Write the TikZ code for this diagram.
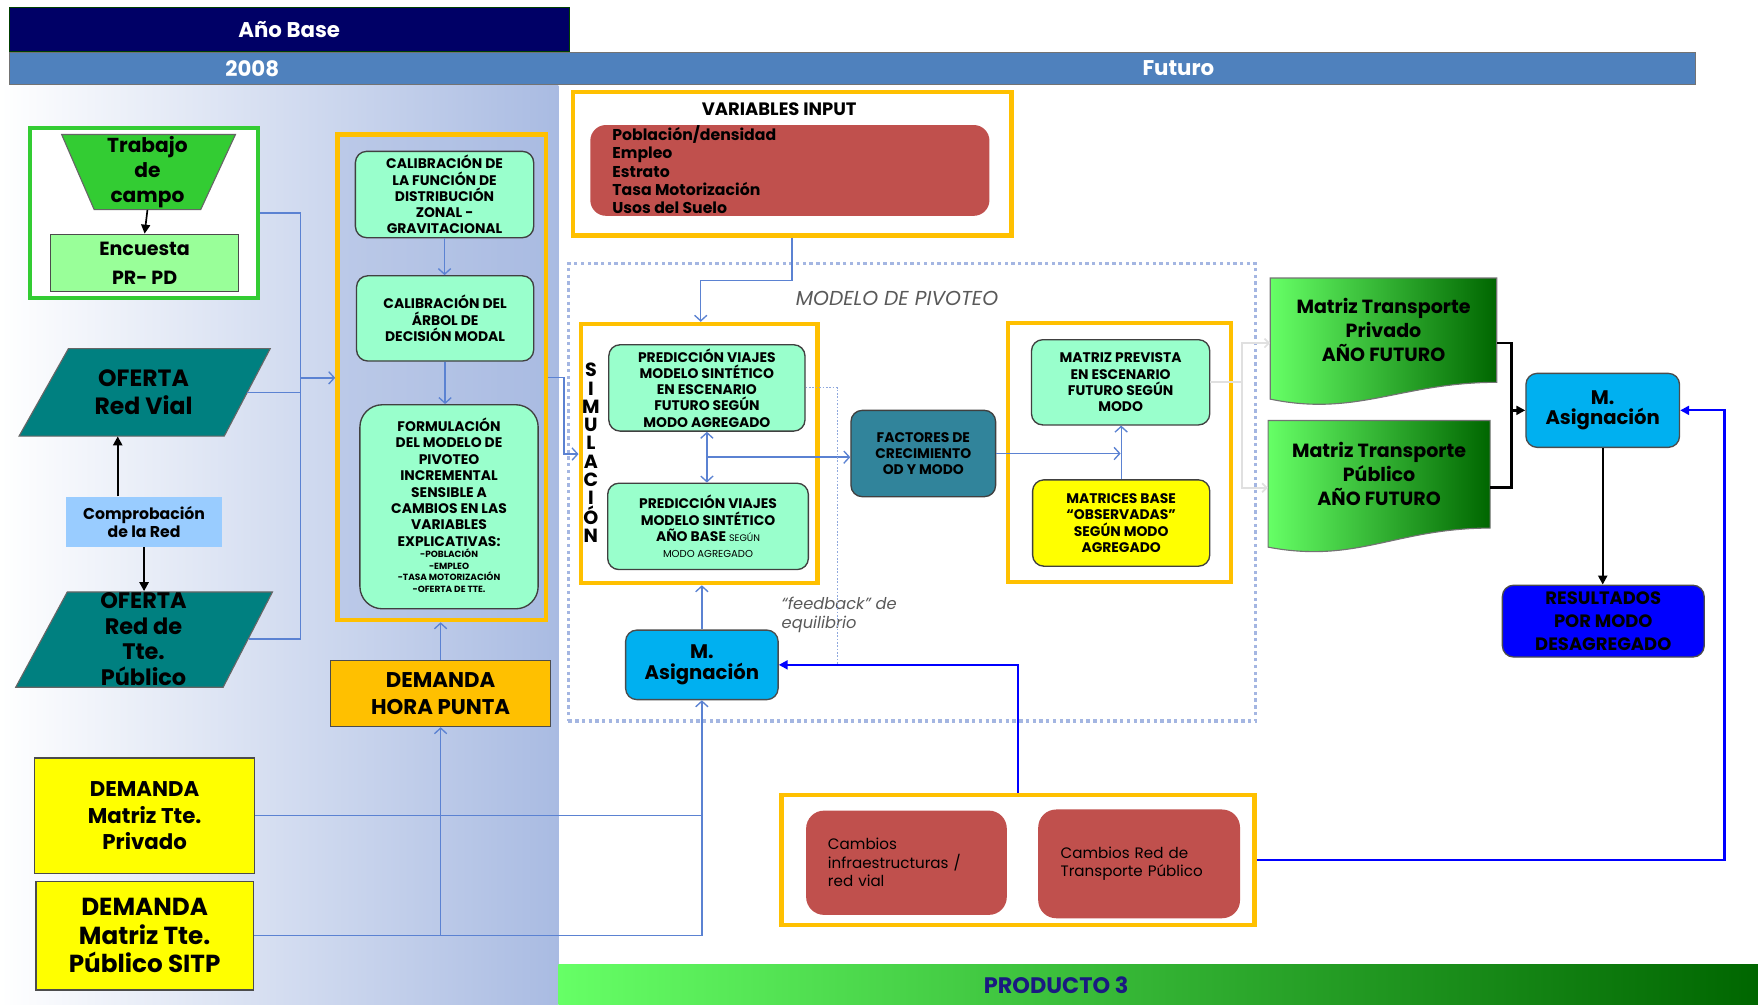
\documentclass[tikz,border=0pt]{standalone}
\usepackage{fontspec}
\setmainfont{Poppins}
\usepackage{tikz}
\usetikzlibrary{calc}
\usetikzlibrary{arrows.meta}

\definecolor{navyc}{HTML}{000066}
\definecolor{yearc}{HTML}{4F81BD}
\definecolor{panelc}{HTML}{A9BBE2}
\definecolor{greenc}{HTML}{33CC33}
\definecolor{encc}{HTML}{99FF99}
\definecolor{tealc}{HTML}{008080}
\definecolor{compc}{HTML}{99CCFF}
\definecolor{yellowc}{HTML}{FFFF00}
\definecolor{framec}{HTML}{FFC000}
\definecolor{mintc}{HTML}{99FFCC}
\definecolor{redc}{HTML}{C0504D}
\definecolor{factc}{HTML}{31849B}
\definecolor{asigc}{HTML}{00B0F0}
\definecolor{resc}{HTML}{0000FF}
\definecolor{linkc}{HTML}{5B82D2}
\definecolor{dotc}{HTML}{A4B6E2}
\definecolor{fbc}{HTML}{8FA8DD}
\definecolor{grayc}{HTML}{595959}
\definecolor{docl}{HTML}{66FF66}
\definecolor{docd}{HTML}{006600}
\definecolor{prodc}{HTML}{1A1A80}

\begin{document}
\begin{tikzpicture}[x=1pt, y=-1pt,
    every node/.style={inner sep=0pt, align=center},
    framebox/.style={draw=framec, line width=4pt},
    capsbox/.style={draw=black!75, line width=1.2pt, rounded corners=10pt, fill=mintc,
        font=\bfseries\fontsize{12.4}{14.5}\selectfont},
    plainbox/.style={draw=black!70, line width=1.2pt},
    oferta/.style={draw=black!60, line width=1pt, fill=tealc},
    asig/.style={draw=black!70, line width=1.2pt, rounded corners=10pt, fill=asigc,
        font=\bfseries\fontsize{17.5}{18.5}\selectfont},
    lnk/.style={draw=linkc, line width=1.2pt},
    lnkarrow/.style={lnk, -{Straight Barb[length=5pt, width=11pt]}},
    blkline/.style={draw=black, line width=2.2pt},
    blkarrow/.style={blkline, -{Triangle[length=8pt, width=8pt]}},
    bluearrow/.style={draw=resc, line width=2pt, -{Triangle[length=8pt, width=8pt]}},
    faint/.style={draw=black!12, line width=1.5pt},
    faintarrow/.style={faint, -{Straight Barb[length=4pt, width=8pt]}},
    fbline/.style={draw=fbc, line width=1pt, dash pattern=on 1.5pt off 1.5pt},
    docshape/.style={draw=black!55, line width=1pt, left color=docl, right color=docd}]
  \useasboundingbox (0,0) rectangle (1568,896);

  \shade[left color=white, right color=panelc] (0,76) rectangle (498,896);
  \shade[left color=docl, right color=docd] (498,860) rectangle (1568,896);
  \node[fill=navyc, draw=green!25!black, line width=0.8pt, minimum width=500pt, minimum height=39pt,
        text=white, font=\bfseries\fontsize{19}{22}\selectfont] (anob) at (258,26.5) {Año Base};
  \node[fill=yearc, draw=black!55, line width=0.8pt, minimum width=1504pt, minimum height=28pt] (ybar) at (760,61) {};
  \node[text=white, font=\bfseries\fontsize{19}{22}\selectfont] (y2008) at (225,61) {2008};
  \node[text=white, font=\bfseries\fontsize{19}{22}\selectfont] (yfut) at (1051,61) {Futuro};
  \node[text=prodc, font=\bfseries\fontsize{20}{22}\selectfont] (prod) at (942,879) {PRODUCTO 3};

  \node[draw=greenc, line width=3.5pt, fill=white, minimum width=203pt, minimum height=152pt] (campo) at (128.5,190) {};
  \draw[draw=black!60, line width=1pt, fill=greenc] (55,120) -- (210,120) -- (179,187) -- (84,187) -- cycle;
  \node[minimum height=67pt, font=\bfseries\fontsize{18}{22}\selectfont] (trab) at (131.5,153.5) {Trabajo\\de\\campo};
  \node[plainbox, fill=encc, minimum width=168pt, minimum height=51pt,
        font=\bfseries\fontsize{17}{26}\selectfont] (enc) at (129,234.5) {\raisebox{-3pt}{Encuesta}\\\raisebox{-3pt}{PR- PD}};
  \draw[oferta] (61,311) -- (241,311) -- (200,389) -- (17,389) -- cycle;
  \node[minimum width=185pt, minimum height=78pt, font=\bfseries\fontsize{21}{25}\selectfont] (vial) at (128,350) {OFERTA\\Red Vial};
  \node[fill=compc, minimum width=139pt, minimum height=45pt,
        font=\bfseries\fontsize{14}{16.5}\selectfont] (comp) at (128.5,465.5) {Comprobación\\de la Red};
  \draw[oferta] (60,528) -- (243,528) -- (199,613) -- (14,613) -- cycle;
  \node[minimum width=187pt, minimum height=85pt, font=\bfseries\fontsize{20}{23}\selectfont] (pub) at (128,570) {OFERTA\\Red de\\Tte.\\Público};
  \node[plainbox, fill=yellowc, minimum width=196pt, minimum height=103pt,
        font=\bfseries\fontsize{19}{24}\selectfont] (dpriv) at (129,727.5) {DEMANDA\\Matriz Tte.\\Privado};
  \node[plainbox, fill=yellowc, minimum width=194pt, minimum height=97pt,
        font=\bfseries\fontsize{22}{25.5}\selectfont] (dpub) at (129,834.5) {DEMANDA\\Matriz Tte.\\Público SITP};

  \node[framebox, fill=panelc, fill opacity=0.45, minimum width=186pt, minimum height=433pt] (calbox) at (394,336.5) {};
  \node[capsbox, minimum width=159pt, minimum height=77pt] (cal1) at (396.5,173.5) {CALIBRACIÓN DE\\LA FUNCIÓN DE\\DISTRIBUCIÓN\\ZONAL -\\GRAVITACIONAL};
  \node[capsbox, minimum width=158pt, minimum height=76pt] (cal2) at (397,284) {CALIBRACIÓN DEL\\ÁRBOL DE\\DECISIÓN MODAL};
  \node[capsbox, rounded corners=20pt, minimum width=159pt, minimum height=182pt] (form) at (400.5,452) {};
  \node[font=\bfseries\fontsize{12.4}{14.6}\selectfont] (formt) at (400.5,430) {FORMULACIÓN\\DEL MODELO DE\\PIVOTEO\\INCREMENTAL\\SENSIBLE A\\CAMBIOS EN LAS\\VARIABLES\\EXPLICATIVAS:};
  \node[font=\bfseries\fontsize{8}{10.5}\selectfont] (forml) at (400.5,509) {-POBLACIÓN\\-EMPLEO\\-TASA MOTORIZACIÓN\\-OFERTA DE TTE.};
  \node[plainbox, fill=framec, minimum width=196pt, minimum height=59pt,
        font=\bfseries\fontsize{19}{24.5}\selectfont] (dhp) at (393,618.5) {DEMANDA\\HORA PUNTA};

  \node[framebox, fill=white, minimum width=391pt, minimum height=128pt] (varbox) at (706.5,146) {};
  \node[font=\bfseries\fontsize{16}{18}\selectfont] (vart) at (695,97) {VARIABLES INPUT};
  \node[fill=redc, rounded corners=14pt, minimum width=356pt, minimum height=81pt] (varred) at (704.5,152) {};
  \node[anchor=west, align=left, font=\bfseries\fontsize{14}{16.3}\selectfont] (varl) at (546,151.5) {Población/densidad\\Empleo\\Estrato\\Tasa Motorización\\Usos del Suelo};

  \node[draw=dotc, line width=3pt, dash pattern=on 3pt off 3pt, minimum width=613pt, minimum height=408pt] (pivbox) at (813.5,439) {};
  \node[text=grayc, font=\itshape\fontsize{18}{20}\selectfont] (pivl) at (800,266) {MODELO DE PIVOTEO};

  \node[framebox, fill=white, minimum width=211pt, minimum height=231pt] (sim) at (623.5,404.5) {};
  \node[font=\bfseries\fontsize{17}{16.3}\selectfont] (simt) at (527,404) {S\\I\\M\\U\\L\\A\\C\\I\\Ó\\N};
  \node[capsbox, minimum width=175pt, minimum height=77pt] (pred1) at (630.5,346) {PREDICCIÓN VIAJES\\MODELO SINTÉTICO\\EN ESCENARIO\\FUTURO SEGÚN\\MODO AGREGADO};
  \node[capsbox, minimum width=179pt, minimum height=77pt] (pred2) at (631.5,469.5) {PREDICCIÓN VIAJES\\MODELO SINTÉTICO\\AÑO BASE {\mdseries\fontsize{8.5}{10}\selectfont SEGÚN}\\{\mdseries\fontsize{9}{10}\selectfont MODO AGREGADO}};
  \node[capsbox, fill=factc, minimum width=129pt, minimum height=77pt] (fact) at (823.5,404.5) {FACTORES DE\\CRECIMIENTO\\OD Y MODO};
  \node[framebox, fill=white, minimum width=199pt, minimum height=231pt] (box3) at (998.5,403.5) {};
  \node[capsbox, minimum width=159pt, minimum height=76pt] (mprev) at (999.5,341) {MATRIZ PREVISTA\\EN ESCENARIO\\FUTURO SEGÚN\\MODO};
  \node[capsbox, fill=yellowc, minimum width=158pt, minimum height=77pt] (mbase) at (1000,466.5) {MATRICES BASE\\“OBSERVADAS”\\SEGÚN MODO\\AGREGADO};
  \node[asig, minimum width=136pt, minimum height=62pt] (masig1) at (626,593) {M.\\Asignación};
  \node[anchor=west, align=left, text=grayc, font=\itshape\fontsize{14.5}{17}\selectfont] (fbl) at (697,548.5) {“feedback” de\\equilibrio};

  \node[framebox, fill=white, minimum width=422pt, minimum height=116pt] (camb) at (908,767) {};
  \node[fill=redc, rounded corners=16pt, minimum width=179pt, minimum height=93pt, text width=140pt, align=left,
        font=\fontsize{13.5}{16.5}\selectfont] (cam1) at (808.5,769.5) {Cambios\\infraestructuras /\\red vial};
  \node[fill=redc, rounded corners=16pt, minimum width=180pt, minimum height=97pt, text width=140pt, align=left,
        font=\fontsize{13.5}{16.5}\selectfont] (cam2) at (1016,770.5) {Cambios Red de\\Transporte Público};

  \draw[docshape] (1133,248) -- (1335,248) -- (1335,341) .. controls (1250,341) and (1210,372) .. (1133,356) -- cycle;
  \node[minimum width=202pt, minimum height=93pt, font=\bfseries\fontsize{17}{21.5}\selectfont] (d1) at (1234,294.5) {Matriz Transporte\\Privado\\AÑO FUTURO};
  \draw[docshape] (1131,375) -- (1329,375) -- (1329,471) .. controls (1245,471) and (1210,503) .. (1131,488) -- cycle;
  \node[minimum width=198pt, minimum height=96pt, font=\bfseries\fontsize{17}{21.5}\selectfont] (d2) at (1230,423) {Matriz Transporte\\Público\\AÑO FUTURO};
  \node[asig, minimum width=137pt, minimum height=66pt] (masig2) at (1429.5,366) {M.\\Asignación};
  \node[draw=black!70, line width=1.2pt, rounded corners=10pt, fill=resc, minimum width=180pt, minimum height=64pt,
        font=\bfseries\fontsize{16}{20.5}\selectfont] (res) at (1430,554) {RESULTADOS\\POR MODO\\DESAGREGADO};

  \coordinate (jl) at (268,337);
  \coordinate (jr) at (503,405);
  \coordinate (jv) at (625,250);
  \coordinate (jm) at ($(pred1.south)!0.5!(pred2.north)$);
  \coordinate (jb) at (1348,366);
  \coordinate (fj) at (1108,341);
  \coordinate (fbj) at (747,593);
  \coordinate (bj) at (1538,366);

  \draw[blkarrow, line width=1.5pt] (trab.south) -- (enc.north);
  \draw[blkarrow, line width=2pt] ([xshift=-23.5pt]comp.north) -- ([xshift=-23.5pt]comp.north |- vial.south);
  \draw[blkarrow, line width=2pt] (comp.south) -- (comp.south |- pub.north);
  \draw[lnk] (campo.east) -| (jl);
  \draw[lnk] (vial.east) -- (vial.east -| jl);
  \draw[lnk] (pub.east) -| (jl);
  \draw[lnkarrow] (jl) -- (jl -| calbox.west);
  \draw[lnkarrow] (cal1.south) -- (cal1.south |- cal2.north);
  \draw[lnkarrow] (cal2.south) -- (cal2.south |- form.north);
  \draw[lnkarrow] (dhp.north) -- (dhp.north |- calbox.south);
  \draw[lnk] (dpriv.east) -- (dpriv.east -| masig1.south);
  \draw[lnkarrow] (dpub.east) -| (masig1.south);
  \draw[lnkarrow] (dpub.east -| dhp.south) -- (dhp.south);
  \draw[lnkarrow] (calbox.east) -| (jr) -- (jr -| sim.west);
  \draw[lnkarrow] (varbox.south) |- (jv) -- (jv |- sim.north);
  \draw[lnk, {Straight Barb[length=5pt, width=11pt]}-{Straight Barb[length=5pt, width=11pt]}] (pred1.south) -- (pred1.south |- pred2.north);
  \draw[lnkarrow] (jm) -- (jm -| fact.west);
  \draw[lnkarrow] (fact.east) -- (fact.east -| mprev.south);
  \draw[lnkarrow] (mbase.north) -- (mbase.north |- mprev.south);
  \draw[lnkarrow] (masig1.north) -- (masig1.north |- sim.south);
  \draw[fbline] (pred1.east) -| (fbj);
  \draw[bluearrow] (camb.north) |- (masig1.east);
  \draw[bluearrow] (camb.east) -| (bj) -- (masig2.east);
  \draw[faint] (mprev.east) -- (fj);
  \draw[faintarrow] (fj) |- ($(d1.west)+(0,11.5)$);
  \draw[faintarrow] (fj) |- ($(d2.west)+(0,12)$);
  \draw[blkline] ($(d1.east)+(0,11.5)$) -| (jb);
  \draw[blkline] ($(d2.east)+(0,12)$) -| (jb);
  \draw[blkarrow] (jb) -- (masig2.west);
  \draw[blkarrow] (masig2.south) -- (masig2.south |- res.north);
\end{tikzpicture}
\end{document}
